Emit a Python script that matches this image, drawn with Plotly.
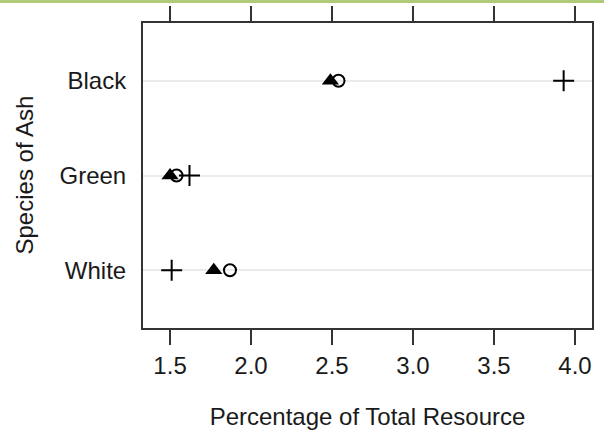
import plotly.graph_objects as go

species = ["White", "Green", "Black"]
series_triangle = [1.77, 1.50, 2.49]
series_circle = [1.87, 1.54, 2.54]
series_plus = [1.51, 1.62, 3.93]
x_ticks = [1.5, 2.0, 2.5, 3.0, 3.5, 4.0]
x_tick_labels = ["1.5", "2.0", "2.5", "3.0", "3.5", "4.0"]

FONT = "Liberation Sans, Arial, sans-serif"

fig = go.Figure()
fig.add_trace(go.Scatter(
    x=series_circle, y=species, mode="markers",
    marker=dict(symbol="circle-open", size=12, color="black", line=dict(width=2)),
    showlegend=False))
fig.add_trace(go.Scatter(
    x=series_triangle, y=species, mode="markers",
    marker=dict(symbol="triangle-up", size=15, color="black"),
    showlegend=False))
fig.add_trace(go.Scatter(
    x=series_plus, y=species, mode="markers",
    marker=dict(symbol="cross-thin-open", size=15, color="black", line=dict(width=2, color="black")),
    showlegend=False))

fig.add_shape(type="rect", xref="paper", yref="paper",
              x0=-143/449, x1=1+12/449, ysizemode="pixel", yanchor=1,
              y0=20, y1=26, fillcolor="#afcb78", line=dict(width=0), layer="above")

fig.add_annotation(text="Species of Ash", xref="paper", yref="paper",
                   x=0, y=0.5, xanchor="center", yanchor="middle",
                   xshift=-119, textangle=-90, showarrow=False,
                   font=dict(family=FONT, size=24, color="#1a1a1a"))

fig.update_layout(
    width=604, height=433,
    margin=dict(l=143, r=12, t=23, b=105),
    plot_bgcolor="white", paper_bgcolor="white",
    font=dict(family=FONT, size=24, color="#1a1a1a"),
    xaxis=dict(
        range=[1.333, 4.105], tickvals=x_ticks, ticktext=x_tick_labels,
        showgrid=False, zeroline=False, automargin=False,
        showline=True, linecolor="#333", linewidth=2, mirror="ticks",
        ticks="outside", ticklen=15, tickwidth=2, tickcolor="#333",
        tickfont=dict(size=24),
        title=dict(text="Percentage of Total Resource", font=dict(size=24), standoff=30),
    ),
    yaxis=dict(
        categoryorder="array", categoryarray=species,
        range=[-0.61, 2.61], automargin=False,
        showgrid=True, gridcolor="#ebebeb", gridwidth=1.5, zeroline=False,
        showline=True, linecolor="#333", linewidth=2, mirror=True,
        ticks="outside", ticklen=10, tickcolor="rgba(0,0,0,0)",
        tickfont=dict(size=24),
    ),
)

fig.write_html("out.html", config={"displayModeBar": False},
               post_script="document.body.style.margin='0px';")
